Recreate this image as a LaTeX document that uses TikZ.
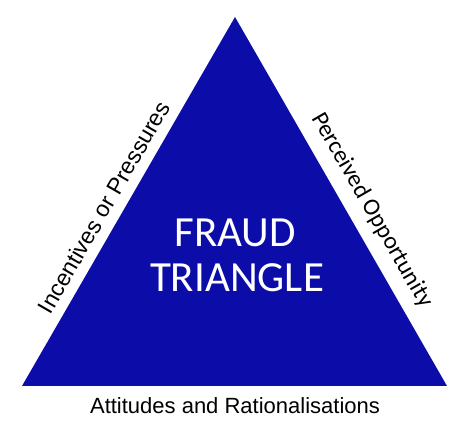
\documentclass[tikz,border=0pt]{standalone}
\usepackage{fontspec}
\setmainfont{Liberation Sans}
\newfontfamily\calibrifont{Carlito}
\usetikzlibrary{calc}
\definecolor{fraudblue}{RGB}{12,12,168}

\begin{document}
\begin{tikzpicture}[x=1pt,y=1pt,
    title/.style={anchor=base,text=white,inner sep=0pt,font=\calibrifont\fontsize{43}{45}\selectfont},
    sidelabel/.style={inner sep=0pt,font=\fontsize{23}{23}\selectfont}]
  \useasboundingbox (0,0) rectangle (474,430);
  \coordinate (apex) at (235,413);
  \coordinate (lcorner) at (22,44);
  \coordinate (rcorner) at (447,44);
  \fill[fraudblue] (apex) -- (lcorner) -- (rcorner) -- cycle;
  \node[title] (fraud) at (235,183) {FRAUD};
  \node[title] (triangle) at (237,138) {TRIANGLE};
  \coordinate (pl) at ($(lcorner)!0.46!(apex)$);
  \coordinate (pr) at ($(rcorner)!0.446!(apex)$);
  \node[sidelabel,rotate=60] (pressures) at ($(pl)!18.5pt!90:(apex)$) {Incentives or Pressures};
  \node[sidelabel,rotate=-60,font=\calibrifont\fontsize{24}{24}\selectfont] (opportunity)
    at ($(pr)!22.6pt!-90:(apex)$) {Perceived Opportunity};
  \node[anchor=base,inner sep=0pt,font=\fontsize{22}{22}\selectfont] (attitudes) at (235,16)
    {Attitudes and Rationalisations};
\end{tikzpicture}
\end{document}
